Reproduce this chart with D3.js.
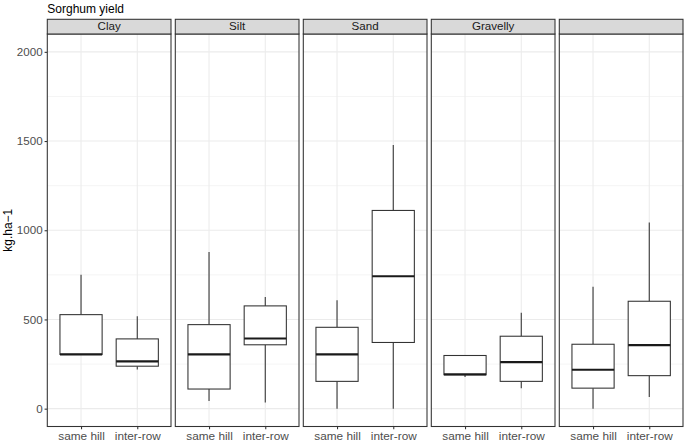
<!DOCTYPE html>
<html>
<head>
<meta charset="utf-8">
<script src="https://cdn.jsdelivr.net/npm/d3@7"></script>
<style>
  body { margin: 0; background: #fff; }
  text { font-family: "Liberation Sans", Arial, sans-serif; }
</style>
</head>
<body>
<div class="container"></div>
<script>
// facets (soil type) and the two planting arrangements
const facets = ['Clay', 'Silt', 'Sand', 'Gravelly', ''];
const groups = ['same hill', 'inter-row'];

// box stats per facet, order: same hill, inter-row
const lowWhisker = [[304, 220], [43, 34], [0, 0], [177, 114], [0, 65]];
const lowerQ = [[304, 238], [110, 358], [153, 371], [190, 153], [115, 185]];
const medians = [[304, 265], [304, 393], [304, 742], [192, 261], [218, 356]];
const upperQ = [[527, 391], [471, 576], [456, 1111], [298, 406], [361, 602]];
const highWhisker = [[751, 518], [878, 626], [607, 1478], [298, 537], [684, 1044]];

const yMajor = [0, 500, 1000, 1500, 2000];
const yMinor = [250, 750, 1250, 1750];

const width = 685, height = 445;
const left = 47.3, panelW = 123.7, gap = 4.3;
const panelTop = 34, panelBottom = 426.5, stripH = 14.7;

const svg = d3.select('.container')
    .append('svg')
    .attr('width', width)
    .attr('height', height);

const y = d3.scaleLinear().domain([-100, 2100]).range([panelBottom, panelTop]);
const fx = d3.scaleBand().domain(facets)
    .range([left, left + facets.length * panelW + (facets.length - 1) * gap])
    .paddingInner(gap / (panelW + gap));

// title
svg.append('text')
    .attr('x', left).attr('y', 12.5)
    .attr('font-size', 12)
    .attr('fill', '#000')
    .text('Sorghum yield');

// y axis title
svg.append('text')
    .attr('transform', `translate(11.5,${(panelTop + panelBottom) / 2}) rotate(-90)`)
    .attr('text-anchor', 'middle')
    .attr('font-size', 12)
    .attr('fill', '#000')
    .text('kg.ha\u22121');

// y axis
const yAxis = svg.append('g')
    .attr('transform', `translate(${left},0)`)
    .call(d3.axisLeft(y).tickValues(yMajor).tickFormat(d3.format('d')).tickSize(2.7).tickPadding(2));
yAxis.select('.domain').remove();
yAxis.selectAll('.tick line').attr('stroke', '#333').attr('stroke-width', 1.07);
yAxis.selectAll('.tick text')
    .attr('font-size', 11.6)
    .attr('fill', '#4d4d4d')
    .style('font-family', '"Liberation Sans", Arial, sans-serif');

facets.forEach((f, i) => {
    const x0 = fx(f);
    const w = fx.bandwidth();
    const x = d3.scalePoint().domain(groups).range([x0, x0 + w]).padding(0.6);
    const boxW = x.step() * 0.75;
    const g = svg.append('g');

    // panel background + grid
    g.append('rect')
        .attr('x', x0).attr('y', panelTop).attr('width', w).attr('height', panelBottom - panelTop)
        .attr('fill', '#fff');
    g.selectAll('line.minor').data(yMinor).join('line')
        .attr('x1', x0).attr('x2', x0 + w)
        .attr('y1', d => y(d)).attr('y2', d => y(d))
        .attr('stroke', '#ebebeb').attr('stroke-width', 0.55);
    g.selectAll('line.major').data(yMajor).join('line')
        .attr('x1', x0).attr('x2', x0 + w)
        .attr('y1', d => y(d)).attr('y2', d => y(d))
        .attr('stroke', '#ebebeb').attr('stroke-width', 1.07);
    g.selectAll('line.vmajor').data(groups).join('line')
        .attr('x1', d => x(d)).attr('x2', d => x(d))
        .attr('y1', panelTop).attr('y2', panelBottom)
        .attr('stroke', '#ebebeb').attr('stroke-width', 1.07);

    // boxes
    groups.forEach((grp, j) => {
        const cx = x(grp);
        g.append('line')
            .attr('x1', cx).attr('x2', cx)
            .attr('y1', y(upperQ[i][j])).attr('y2', y(highWhisker[i][j]))
            .attr('stroke', '#333').attr('stroke-width', 1.07);
        g.append('line')
            .attr('x1', cx).attr('x2', cx)
            .attr('y1', y(lowerQ[i][j])).attr('y2', y(lowWhisker[i][j]))
            .attr('stroke', '#333').attr('stroke-width', 1.07);
        g.append('rect')
            .attr('x', cx - boxW / 2).attr('width', boxW)
            .attr('y', y(upperQ[i][j]))
            .attr('height', y(lowerQ[i][j]) - y(upperQ[i][j]))
            .attr('fill', '#fff').attr('stroke', '#333').attr('stroke-width', 1.07);
        g.append('line')
            .attr('x1', cx - boxW / 2).attr('x2', cx + boxW / 2)
            .attr('y1', y(medians[i][j])).attr('y2', y(medians[i][j]))
            .attr('stroke', '#1a1a1a').attr('stroke-width', 2.1);
    });

    // panel border
    g.append('rect')
        .attr('x', x0).attr('y', panelTop).attr('width', w).attr('height', panelBottom - panelTop)
        .attr('fill', 'none').attr('stroke', '#333').attr('stroke-width', 1.07);

    // strip
    g.append('rect')
        .attr('x', x0).attr('y', panelTop - stripH).attr('width', w).attr('height', stripH)
        .attr('fill', '#d9d9d9').attr('stroke', '#333').attr('stroke-width', 1.07);
    g.append('text')
        .attr('x', x0 + w / 2).attr('y', panelTop - 3.6)
        .attr('text-anchor', 'middle')
        .attr('font-size', 11.6)
        .attr('fill', '#1a1a1a')
        .text(f);

    // x axis
    const xAxis = g.append('g')
        .attr('transform', `translate(0,${panelBottom})`)
        .call(d3.axisBottom(x).tickSize(2.7).tickPadding(2));
    xAxis.select('.domain').remove();
    xAxis.selectAll('.tick line').attr('stroke', '#333').attr('stroke-width', 1.07);
    xAxis.selectAll('.tick text')
        .attr('font-size', 11.8)
        .attr('fill', '#4d4d4d')
        .style('font-family', '"Liberation Sans", Arial, sans-serif');
});
</script>
</body>
</html>
